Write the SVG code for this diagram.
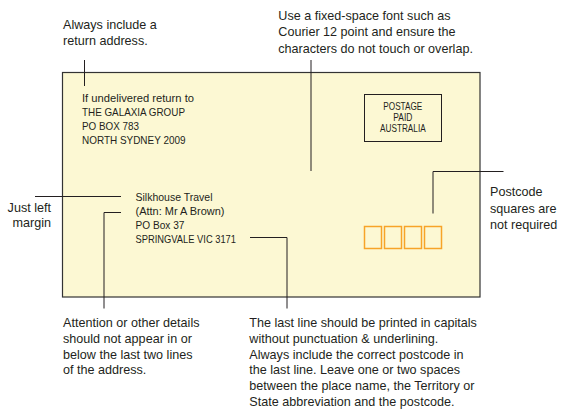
<svg xmlns="http://www.w3.org/2000/svg" width="561" height="409" viewBox="0 0 561 409">
<style>
text{font-family:"Liberation Sans",Arial,sans-serif;fill:#231f20}
.n{font-size:12.6px}
.a{font-size:10.8px}
.p{font-size:10.2px}
.l{fill:none;stroke:#231f20;stroke-width:1}
.sq{fill:none;stroke:#f7a428;stroke-width:1.5}
</style>
<rect width="561" height="409" fill="#fff"/>
<g id="envelope">
<rect x="62.5" y="72.5" width="417.5" height="224.5" fill="#fcf8d3" stroke="#333" stroke-width="1.2"/>
</g>
<g id="return-address">
<text class="a" x="82" y="101.5" textLength="112" lengthAdjust="spacingAndGlyphs">If undelivered return to</text>
<text class="a" x="82" y="115.8" textLength="103" lengthAdjust="spacingAndGlyphs">THE GALAXIA GROUP</text>
<text class="a" x="82" y="130" textLength="57" lengthAdjust="spacingAndGlyphs">PO BOX 783</text>
<text class="a" x="82" y="144.2" textLength="103.5" lengthAdjust="spacingAndGlyphs">NORTH SYDNEY 2009</text>
</g>
<g id="postage">
<rect x="364.5" y="94.5" width="77" height="47" fill="none" stroke="#231f20" stroke-width="1"/>
<text class="p" x="383.3" y="109.8" textLength="39" lengthAdjust="spacingAndGlyphs">POSTAGE</text>
<text class="p" x="393.3" y="120.7" textLength="19" lengthAdjust="spacingAndGlyphs">PAID</text>
<text class="p" x="380" y="132.3" textLength="45.7" lengthAdjust="spacingAndGlyphs">AUSTRALIA</text>
</g>
<g id="recipient">
<text class="a" x="135.5" y="200.5" textLength="77" lengthAdjust="spacingAndGlyphs">Silkhouse Travel</text>
<text class="a" x="135.5" y="214.5" textLength="89" lengthAdjust="spacingAndGlyphs">(Attn: Mr A Brown)</text>
<text class="a" x="135.5" y="228.5" textLength="49" lengthAdjust="spacingAndGlyphs">PO Box 37</text>
<text class="a" x="135.5" y="242.5" textLength="100.5" lengthAdjust="spacingAndGlyphs">SPRINGVALE VIC 3171</text>
</g>
<g id="postcode-squares">
<rect class="sq" x="364.5" y="226.5" width="17" height="22"/>
<rect class="sq" x="384.5" y="226.5" width="17" height="22"/>
<rect class="sq" x="404.5" y="226.5" width="17" height="22"/>
<rect class="sq" x="424.5" y="226.5" width="17" height="22"/>
</g>
<g id="note-return">
<text class="n" x="63" y="29.3">Always include a</text>
<text class="n" x="63" y="44.5">return address.</text>
</g>
<g id="note-font">
<text class="n" x="278.3" y="20">Use a fixed-space font such as</text>
<text class="n" x="278.3" y="36.3">Courier 12 point and ensure the</text>
<text class="n" x="278.3" y="52.6">characters do not touch or overlap.</text>
</g>
<g id="note-margin">
<text class="n" x="51" y="211.7" text-anchor="end">Just left</text>
<text class="n" x="51" y="226.5" text-anchor="end">margin</text>
</g>
<g id="note-postcode">
<text class="n" x="490" y="196">Postcode</text>
<text class="n" x="490" y="212.5">squares are</text>
<text class="n" x="490" y="229">not required</text>
</g>
<g id="note-attention">
<text class="n" x="63" y="327.3">Attention or other details</text>
<text class="n" x="63" y="343">should not appear in or</text>
<text class="n" x="63" y="358.7">below the last two lines</text>
<text class="n" x="63" y="374.4">of the address.</text>
</g>
<g id="note-lastline">
<text class="n" x="249.3" y="327.3">The last line should be printed in capitals</text>
<text class="n" x="249.3" y="343">without punctuation &amp; underlining.</text>
<text class="n" x="249.3" y="358.7">Always include the correct postcode in</text>
<text class="n" x="249.3" y="374.4">the last line. Leave one or two spaces</text>
<text class="n" x="249.3" y="390.1">between the place name, the Territory or</text>
<text class="n" x="249.3" y="405.8">State abbreviation and the postcode.</text>
</g>
<g id="connectors">
<path class="l" d="M84.5 60V86"/>
<path class="l" d="M311 60V171"/>
<path class="l" d="M503.5 171.5H433V213.5"/>
<path class="l" d="M35 196.5H121"/>
<path class="l" d="M121 212.5H104V308.5"/>
<path class="l" d="M250 237.5H287V308.5"/>
</g>
</svg>
